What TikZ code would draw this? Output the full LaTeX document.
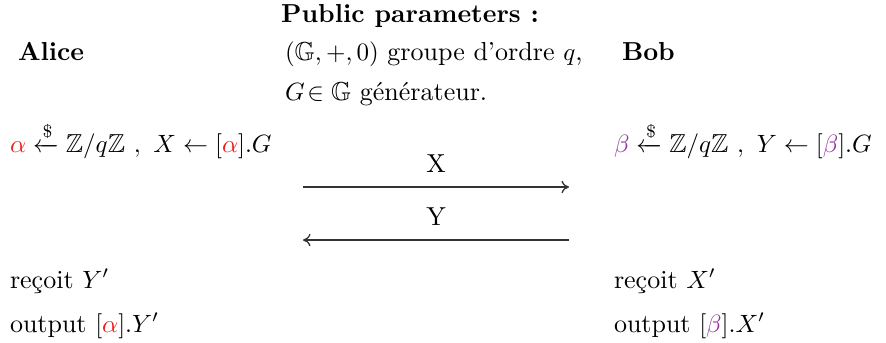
\documentclass[tikz,border=0pt]{standalone}
\usepackage{amsmath,amssymb}
\usetikzlibrary{arrows.meta}
\definecolor{alphacol}{RGB}{235,30,30}
\definecolor{betacol}{RGB}{150,50,160}
\tikzset{
  txt/.style={anchor=base west, inner sep=0pt, outer sep=0pt},
  ctxt/.style={anchor=base, inner sep=0pt, outer sep=0pt},
  msg/.style={draw=black!80, line width=0.5pt, -{To[length=3pt,width=5pt]}}
}
\begin{document}
\fontsize{10.4pt}{12.5pt}\selectfont
\begin{tikzpicture}[x=0.4pt,y=-0.4pt]
\useasboundingbox (0,0) rectangle (886,342);
\node[ctxt] (pp) at (410,22) {\textbf{Public parameters :}};
\node[txt] (alice) at (18,60) {\textbf{Alice}};
\node[txt] (grp) at (285,60) {$(\mathbb{G},+,0)$ groupe d'ordre $q$,};
\node[txt] (bob) at (622,60) {\textbf{Bob}};
\node[txt] (gen) at (285,100) {$G\!\in\mathbb{G}$ générateur.};
\node[txt] (akey) at (10,152) {$\textcolor{alphacol}{\alpha}\xleftarrow{\$}\mathbb{Z}/q\mathbb{Z}\ ,\ X\leftarrow[\textcolor{alphacol}{\alpha}].G$};
\node[txt] (bkey) at (614,152) {$\textcolor{betacol}{\beta}\xleftarrow{\$}\mathbb{Z}/q\mathbb{Z}\ ,\ Y\leftarrow[\textcolor{betacol}{\beta}].G$};
\coordinate (xl) at (303,187);
\coordinate (xr) at (569,187);
\coordinate (yl) at (303,240);
\coordinate (yr) at (569,240);
\draw[msg] (xl) -- node[ctxt, above=6pt] (lx) {X} (xr);
\draw[msg] (yr) -- node[ctxt, above=6pt] (ly) {Y} (yl);
\node[txt] (arec) at (10,288) {reçoit $Y'$};
\node[txt] (aout) at (10,332) {output $[\textcolor{alphacol}{\alpha}].Y'$};
\node[txt] (brec) at (614,288) {reçoit $X'$};
\node[txt] (bout) at (614,332) {output $[\textcolor{betacol}{\beta}].X'$};
\end{tikzpicture}
\end{document}
